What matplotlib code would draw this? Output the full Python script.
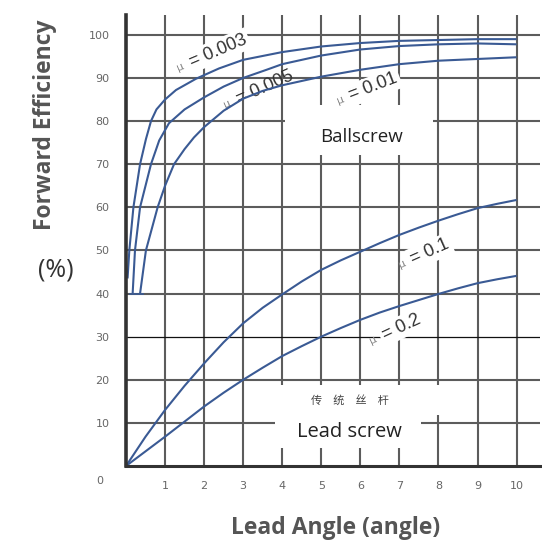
import matplotlib
matplotlib.use("Agg")
import matplotlib.pyplot as plt
from matplotlib.patches import Rectangle
from matplotlib import transforms as mtrans

# ---- data ----
x_003 = [0.04, 0.085, 0.19, 0.36, 0.51, 0.64, 0.78, 1.0, 1.28, 1.79, 2.38, 3.0, 4.0, 5.0, 6.0, 7.0, 8.0, 9.0, 10.0]
y_003 = [43.5, 50.0, 60.0, 70.0, 75.8, 80.0, 82.7, 85.0, 87.2, 89.8, 92.2, 94.2, 96.0, 97.3, 98.1, 98.6, 98.8, 99.0, 99.0]

x_005 = [0.17, 0.23, 0.36, 0.64, 0.85, 1.1, 1.5, 2.0, 2.5, 3.0, 3.6, 4.0, 5.0, 6.0, 7.0, 8.0, 9.0, 10.0]
y_005 = [40.0, 50.0, 60.0, 70.0, 75.5, 79.5, 82.7, 85.5, 88.0, 90.0, 91.9, 93.2, 95.2, 96.6, 97.4, 97.8, 98.0, 97.8]

x_01 = [0.36, 0.51, 0.81, 1.0, 1.23, 1.5, 1.74, 2.0, 2.5, 3.0, 3.5, 4.0, 5.0, 6.0, 7.0, 8.0, 9.0, 10.0]
y_01 = [40.0, 50.0, 60.0, 65.0, 70.0, 73.5, 76.2, 78.6, 82.4, 85.2, 87.0, 88.3, 90.3, 91.9, 93.2, 94.0, 94.4, 94.8]

x_lead = [0, 0.5, 1, 1.5, 2, 2.5, 3, 3.5, 4, 4.5, 5, 5.5, 6, 6.5, 7, 7.5, 8, 8.5, 9, 9.5, 10]
y_01lead = [0.0, 6.8, 13.0, 18.6, 23.8, 28.7, 33.1, 36.7, 39.8, 42.8, 45.5, 47.7, 49.7, 51.7,
            53.6, 55.3, 56.9, 58.4, 59.8, 60.8, 61.7]
y_02lead = [0.0, 3.4, 6.8, 10.3, 13.8, 17.0, 20.0, 22.8, 25.5, 27.8, 30.0, 32.0, 33.9, 35.6,
            37.1, 38.5, 39.9, 41.2, 42.4, 43.3, 44.1]

x_ticks = [1, 2, 3, 4, 5, 6, 7, 8, 9, 10]
y_ticks = [10, 20, 30, 40, 50, 60, 70, 80, 90, 100]

curve_labels = ["0.003", "0.005", "0.01", "0.1", "0.2"]

# ---- figure ----
W, H = 542, 544
fig = plt.figure(figsize=(W / 100, H / 100), dpi=100)
ax = fig.add_axes([126 / W, 78 / H, (540 - 126) / W, (529 - 78) / H])
ax.set_xlim(0, 10.6)
ax.set_ylim(0, 104.6)

GRID = "#5c5c5c"
BLUE = "#3a5a94"

for xv in x_ticks:
    ax.axvline(xv, color=GRID, lw=1.5, zorder=1)
for yv in y_ticks:
    if yv == 30:
        ax.axhline(yv, color="#111111", lw=0.9, zorder=1)
    else:
        ax.axhline(yv, color=GRID, lw=1.5, zorder=1)

for s in ["top", "right"]:
    ax.spines[s].set_visible(False)
ax.spines["left"].set_linewidth(2.6)
ax.spines["left"].set_color("#333333")
ax.spines["bottom"].set_linewidth(2.2)
ax.spines["bottom"].set_color("#333333")
ax.spines["left"].set_zorder(6)
ax.spines["bottom"].set_zorder(6)

ax.set_xticks(x_ticks)
ax.set_yticks(y_ticks)
ax.tick_params(axis="both", length=0, labelsize=8, labelcolor="#666666")
ax.tick_params(axis="x", pad=11)
ax.tick_params(axis="y", pad=12)
fig.text(100 / W, 1 - 481 / H, "0", fontsize=8, color="#666666", ha="center", va="center")

# white knock-out boxes behind the region labels
for (x0, y0, x1, y1) in [(4.08, 72.2, 7.85, 83.8), (3.81, 4.2, 7.56, 18.8), (3.81, 11.8, 8.12, 18.8)]:
    ax.add_patch(Rectangle((x0, y0), x1 - x0, y1 - y0, facecolor="white", edgecolor="none", zorder=2))

# curves
for xs, ys in [(x_003, y_003), (x_005, y_005), (x_01, y_01), (x_lead, y_01lead), (x_lead, y_02lead)]:
    ax.plot(xs, ys, color=BLUE, lw=1.5, zorder=4, solid_capstyle="butt", solid_joinstyle="round")
# small end ticks at the bottom of two ballscrew curves
for xs, ys in [(x_005, y_005), (x_01, y_01)]:
    ax.plot([xs[0] - 0.08, xs[0] + 0.08], [ys[0], ys[0]], color=BLUE, lw=1.2, zorder=4)

# mu labels: (x, y) of the start of "= value", rotation, bbox?
label_pos = [(1.64, 93.6, 23, True), (2.84, 84.9, 24, False), (5.73, 85.8, 21, True),
             (7.31, 47.8, 24, True), (6.57, 30.2, 25, True)]
for txt, (lx, ly, rot, boxed) in zip(curve_labels, label_pos):
    bb = dict(boxstyle="square,pad=0.15", fc="white", ec="none") if boxed else None
    ax.text(lx, ly, "= " + txt, rotation=rot, rotation_mode="anchor", ha="left", va="center",
            fontsize=13, color="#333333", family="Liberation Sans", zorder=3, bbox=bb)
    off = mtrans.offset_copy(ax.transData, fig=fig, x=-7, y=-3.2, units="points")
    ax.text(lx, ly, "μ", rotation=rot, rotation_mode="anchor", ha="center", va="center",
            fontsize=8, color="#888888", zorder=3, transform=off)

fig.text(361 / W, 1 - 137 / H, "Ballscrew", fontsize=13.5, color="#222222",
         family="Open Sans", ha="center", va="center", zorder=5)
fig.text(349 / W, 1 - 432 / H, "Lead screw", fontsize=14.5, color="#222222",
         family="Open Sans", ha="center", va="center", zorder=5)
fig.text(350 / W, 1 - 400 / H, "传\u3000统\u3000丝\u3000杆", fontsize=8, color="#444444",
         family=["Noto Sans CJK SC", "DejaVu Sans"], ha="center", va="center", zorder=5)

# axis labels
fig.text(45 / W, 1 - 125 / H, "Forward Efficiency", rotation=90, fontsize=16.5, fontweight="bold",
         color="#555555", family="Open Sans", ha="center", va="center")
fig.text(56 / W, 1 - 270 / H, "(%)", fontsize=18, color="#333333", family="Open Sans",
         ha="center", va="center")
fig.text(336 / W, 1 - 528 / H, "Lead Angle (angle)", fontsize=16.5, fontweight="bold",
         color="#555555", family="Open Sans", ha="center", va="center")

fig.savefig("out.png", dpi=100)
